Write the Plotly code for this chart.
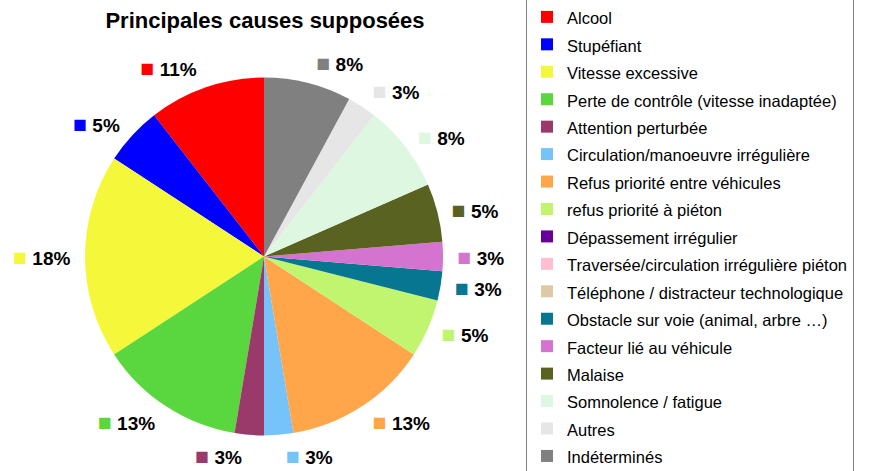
import plotly.graph_objects as go

title = "Principales causes supposées"

causes = [
    "Alcool",
    "Stupéfiant",
    "Vitesse excessive",
    "Perte de contrôle (vitesse inadaptée)",
    "Attention perturbée",
    "Circulation/manoeuvre irrégulière",
    "Refus priorité entre véhicules",
    "refus priorité à piéton",
    "Dépassement irrégulier",
    "Traversée/circulation irrégulière piéton",
    "Téléphone / distracteur technologique",
    "Obstacle sur voie (animal, arbre …)",
    "Facteur lié au véhicule",
    "Malaise",
    "Somnolence / fatigue",
    "Autres",
    "Indéterminés",
]
counts = [4, 2, 7, 5, 1, 1, 5, 2, 0, 0, 0, 1, 1, 2, 3, 1, 3]
colors = [
    "#FF0000", "#0000FF", "#F5F83A", "#5AD63E", "#993A6A", "#76C3FA",
    "#FFA54A", "#C1F56F", "#660099", "#FFBFD0", "#DDC9A6", "#077690",
    "#D474D0", "#5A6222", "#DEF7E0", "#E6E6E6", "#808080",
]

FONT = "Liberation Sans, Arial, sans-serif"
W, H = 892, 471
CX, CY = 264, 256.5     # pie centre in pixels (from top-left)
R_PIE, R_LBL = 179, 187  # pie radius, radius of the ring carrying the labels

# plotly's counterclockwise mode ends the first slice at the rotation angle,
# turn it back so that "Alcool" starts at 12 o'clock like the original
ROT = -360 * counts[0] / sum(counts)


def dom(r):
    return dict(x=[(CX - r) / W, (CX + r) / W],
                y=[(H - CY - r) / H, (H - CY + r) / H])


# coloured square + percentage, nothing for empty causes
templates = [
    f"<span style='color:{c};font-size:23px'>■</span> %{{percent:.0%}}" if v > 0 else ""
    for v, c in zip(counts, colors)
]
legend_labels = [f"<span style='font-size:16.5px'>{name}</span>" for name in causes]

fig = go.Figure()

# visible pie, carries the legend
fig.add_trace(go.Pie(
    labels=legend_labels,
    values=counts,
    sort=False,
    direction="counterclockwise",
    rotation=ROT,
    marker=dict(colors=colors, line=dict(width=0)),
    textinfo="none",
    domain=dom(R_PIE),
    hoverinfo="skip",
))

# transparent, slightly larger pie just to push the outside labels away
fig.add_trace(go.Pie(
    labels=causes,
    values=counts,
    sort=False,
    direction="counterclockwise",
    rotation=ROT,
    marker=dict(colors=["rgba(0,0,0,0)"] * len(counts), line=dict(width=0)),
    texttemplate=templates,
    textposition="outside",
    textfont=dict(family=FONT, size=19, color="black", weight="bold"),
    domain=dom(R_LBL),
    showlegend=False,
    hoverinfo="skip",
))

fig.update_layout(
    width=W, height=H,
    # legend runs off the bottom like the original, don't let it eat the pie
    margin=dict(l=0, r=0, t=0, b=0, autoexpand=False),
    paper_bgcolor="white",
    font=dict(family=FONT, color="black"),
    title=dict(
        text=f"<b>{title}</b>", x=265 / W, xanchor="center",
        y=1 - 20 / H, yanchor="middle",
        font=dict(family=FONT, size=22, color="black"),
    ),
    legend=dict(
        x=526 / W, xanchor="left", y=1.006, yanchor="top",
        font=dict(family=FONT, size=18.8, color="black"),
        bordercolor="#7f7f7f", borderwidth=1,
        traceorder="normal", maxheight=700,
    ),
    showlegend=True,
)

fig.write_html("out.html", config={"displayModeBar": False},
               post_script="document.body.style.margin='0';")
